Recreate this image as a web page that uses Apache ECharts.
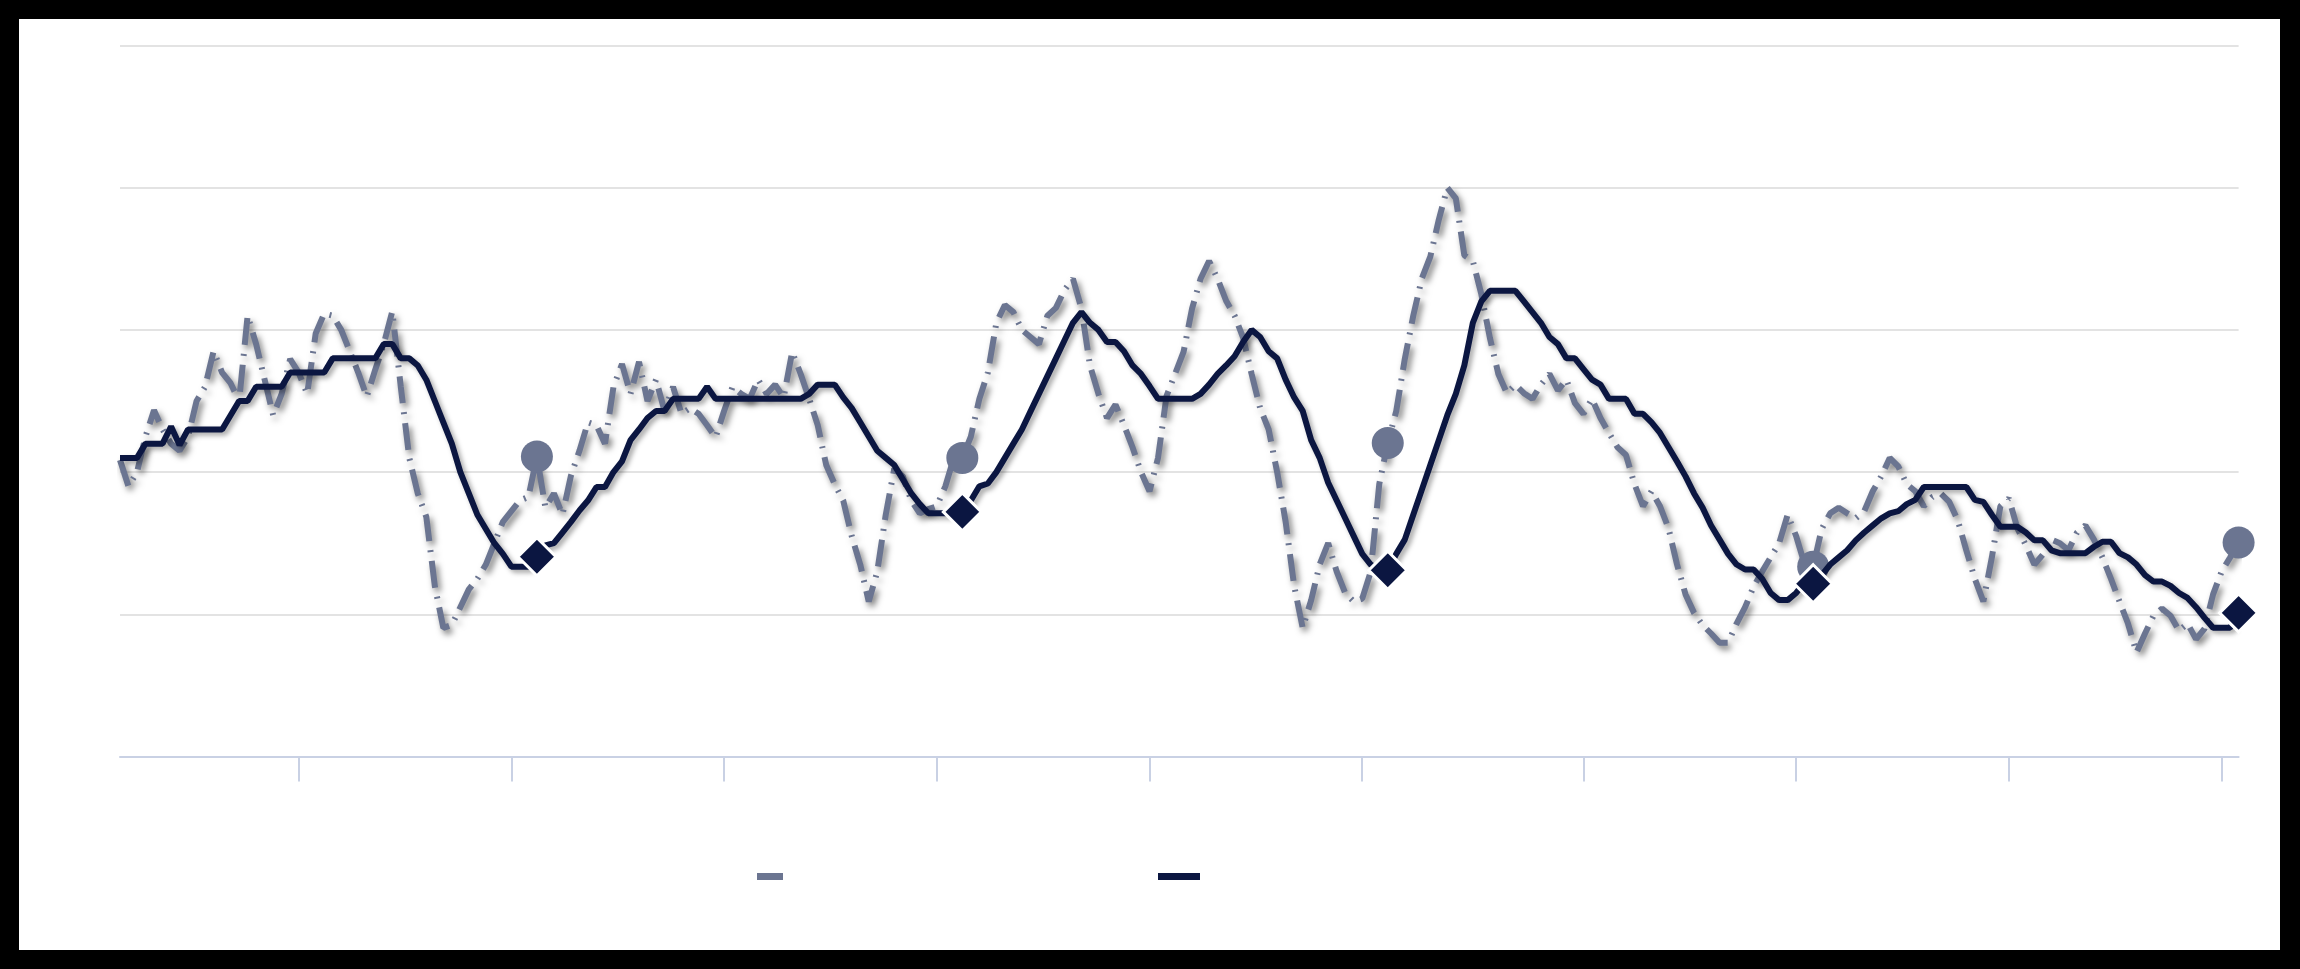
<!DOCTYPE html>
<html>
<head>
<meta charset="utf-8">
<script src="https://cdn.jsdelivr.net/npm/echarts@6/dist/echarts.min.js"></script>
<style>
  html, body { margin: 0; padding: 0; background: #000; width: 2300px; height: 969px; overflow: hidden; }
  #chart { position: absolute; left: 19px; top: 19px; width: 2261px; height: 931px; background: #fff; }
</style>
</head>
<body>
<div id="chart"></div>
<script>
// ---- data ----
const seriesNames = ['Daily', 'Smoothed'];

const dailyValues = [
  41.7, 38, 40, 45, 48.7, 46, 44, 43, 45, 50,
  52, 57, 54, 52.5, 50, 62, 58, 53, 48, 51,
  55.9, 54, 51, 59.5, 62.3, 62, 60, 57, 54, 50.6,
  54.4, 58, 62.6, 52, 42, 37, 33.7, 24, 18.1, 18.5,
  21, 23.5, 25, 27, 30, 33, 34.5, 36, 36.5, 42.2,
  35, 37, 34, 39.5, 43, 47, 46.6, 44, 52, 55.2,
  51, 55.5, 50, 53, 48.6, 52, 48.2, 49, 48.2, 46.6,
  44.9, 48.6, 52, 51, 50.3, 53, 51, 52.3, 50.5, 56.9,
  53.8, 50.3, 46.6, 41, 38.3, 36, 31, 27, 21.8, 26,
  34, 40.5, 39.4, 36, 34.2, 34.8, 35.2, 38, 42, 42,
  45, 50.3, 54, 61, 63.5, 62.5, 60, 59, 58, 62,
  63.1, 65.6, 67.2, 63, 55, 51, 47.6, 49.5, 46.6, 43.5,
  40, 37.3, 42, 50.7, 53.8, 56.9, 63, 67.2, 69.7, 67.2,
  64.1, 62, 58.9, 53.8, 49, 46, 40, 33, 24, 18.1,
  22, 27, 30, 26, 23, 21.8, 22.2, 26, 38.3, 44.1,
  48.6, 55.9, 62, 67.2, 70.3, 75.5, 80, 78.5, 70.5, 69.7,
  65, 58.9, 53.8, 51.1, 52.3, 51.1, 50.3, 52.3, 53.8, 51.5,
  53, 49.7, 48.2, 50.3, 47.6, 45.5, 43.5, 42.4, 38.3, 35.2,
  37.3, 35.2, 32.1, 27, 22.8, 20.2, 18.5, 17.3, 16, 16,
  18.7, 21, 23.9, 26, 28, 30, 34, 31, 27, 26.7,
  32, 34.2, 35, 34.2, 33.5, 34.5, 37.3, 39.4, 42, 40.8,
  38.3, 37.3, 35.2, 36.5, 37, 35.8, 33.2, 29, 25, 21.8,
  28, 35.2, 36.3, 32.1, 29.7, 27, 28.4, 30.5, 30, 29,
  31.5, 32.5, 30.5, 28, 25, 21.8, 18.7, 14.6, 17.3, 19.8,
  20.8, 19.8, 17.7, 18.7, 16.5, 18, 22.8, 26, 28, 30.1
];

const smoothedValues = [
  42, 42, 42, 44, 44, 44, 46.4, 43.8, 46, 46,
  46, 46, 46, 48, 50, 50, 52, 52, 52, 52,
  54, 54, 54, 54, 54, 56, 56, 56, 56, 56,
  56, 58, 58, 56, 56, 55, 53, 50, 47, 44,
  40, 37, 34, 32, 30, 28.5, 26.7, 26.7, 26.7, 28.1,
  29.7, 30, 31.5, 33, 34.6, 36, 37.9, 37.9, 40, 41.5,
  44.5, 46, 47.6, 48.6, 48.6, 50.3, 50.3, 50.3, 50.3, 52,
  50.3, 50.3, 50.3, 50.3, 50.3, 50.3, 50.3, 50.3, 50.3, 50.3,
  50.3, 51, 52.3, 52.3, 52.3, 50.5, 49, 47, 45, 43,
  42, 41, 39, 37, 35.5, 34.2, 34.2, 34.2, 34.2, 34.4,
  36, 38, 38.4, 40, 42, 44, 46, 48.5, 51, 53.5,
  56, 58.5, 61, 62.5, 61, 60, 58.3, 58.3, 57, 55,
  53.8, 52.1, 50.3, 50.3, 50.3, 50.3, 50.3, 51, 52.3, 53.8,
  55, 56.3, 58.3, 60, 59, 57, 56, 53, 50.5, 48.6,
  44.5, 42, 38.5, 36, 33.5, 31, 28.5, 27, 26.2, 26.2,
  28.5, 30.5, 34, 37.5, 41, 44.5, 48, 51, 55, 61,
  64, 65.5, 65.5, 65.5, 65.5, 64, 62.5, 61, 59, 58,
  56, 56, 54.5, 53, 52.3, 50.3, 50.3, 50.3, 48.2, 48.2,
  47, 45.5, 43.5, 41.5, 39.4, 37, 35, 32.5, 30.5, 28.5,
  27, 26.3, 26.3, 25, 23, 22, 22, 23, 24.5, 24.3,
  25.5, 27, 28, 29, 30.4, 31.5, 32.5, 33.5, 34.2, 34.5,
  35.5, 36.1, 37.9, 37.9, 37.9, 37.9, 37.9, 37.9, 36.1, 35.8,
  34, 32.3, 32.3, 32.3, 31.5, 30.4, 30.4, 29, 28.6, 28.6,
  28.6, 28.6, 29.5, 30.2, 30.2, 28.6, 28, 27, 25.5, 24.6,
  24.6, 24, 23, 22.3, 21, 19.5, 18.1, 18.1, 18.1, 20.2
];

// category positions (one per observation) and where the axis ticks / markers fall
const categories = dailyValues.map((_, i) => String(i + 1));
const tickIndices = [21, 46, 71, 96, 121, 146, 172, 197, 222, 247];
const markerIndices = [49, 99, 149, 199, 249];

const yMin = 0, yMax = 100, yStep = 20;

// ---- chart ----
const chart = echarts.init(document.getElementById('chart'), null, { renderer: 'canvas' });
const colDaily = '#6b7591';
const colSmooth = '#0b1641';

chart.setOption({
  animation: false,
  backgroundColor: '#ffffff',
  grid: { left: 101, right: 41.4, top: 26.5, bottom: 193.5, containLabel: false },
  legend: [
    {
      data: [seriesNames[0]], left: 738, top: 854, padding: 0,
      icon: 'rect', itemWidth: 26, itemHeight: 7, itemGap: 0,
      formatter: () => '', selectedMode: false,
      itemStyle: { color: colDaily, borderWidth: 0, shadowBlur: 0, shadowColor: 'transparent' },
      textStyle: { fontSize: 1 }
    },
    {
      data: [seriesNames[1]], left: 1139, top: 854, padding: 0,
      icon: 'rect', itemWidth: 42, itemHeight: 7, itemGap: 0,
      formatter: () => '', selectedMode: false,
      itemStyle: { color: colSmooth, borderWidth: 0, shadowBlur: 0, shadowColor: 'transparent' },
      textStyle: { fontSize: 1 }
    }
  ],
  xAxis: {
    type: 'category',
    data: categories,
    boundaryGap: false,
    axisLine: { show: true, lineStyle: { color: '#c9d1e4', width: 2 } },
    axisTick: { show: true, length: 25, interval: (idx) => tickIndices.includes(idx), lineStyle: { color: '#c9d1e4', width: 2 } },
    axisLabel: { show: false },
    splitLine: { show: false }
  },
  yAxis: {
    type: 'value',
    min: yMin, max: yMax, interval: yStep,
    axisLine: { show: false },
    axisTick: { show: false },
    axisLabel: { show: false },
    splitLine: { show: true, lineStyle: { color: '#e3e3e3', width: 2 } }
  },
  series: [
    {
      name: seriesNames[0],
      type: 'line',
      data: dailyValues,
      showSymbol: true,
      showAllSymbol: true,
      symbol: 'circle',
      symbolSize: (v, p) => markerIndices.includes(p.dataIndex) ? 32 : 0,
      itemStyle: { color: colDaily },
      lineStyle: {
        color: colDaily, width: 6, type: [27, 9, 2, 9], cap: 'butt',
        shadowColor: 'rgba(0,0,0,0.5)', shadowBlur: 6, shadowOffsetX: 3, shadowOffsetY: 4
      },
      z: 2
    },
    {
      name: seriesNames[1],
      type: 'line',
      data: smoothedValues,
      showSymbol: true,
      showAllSymbol: true,
      symbol: 'diamond',
      symbolSize: (v, p) => markerIndices.includes(p.dataIndex) ? 38 : 0,
      itemStyle: { color: colSmooth, borderColor: '#ffffff', borderWidth: 3 },
      lineStyle: {
        color: colSmooth, width: 6,
        shadowColor: 'rgba(0,0,0,0.35)', shadowBlur: 5, shadowOffsetX: 3, shadowOffsetY: 3
      },
      z: 3
    }
  ]
});
</script>
</body>
</html>
